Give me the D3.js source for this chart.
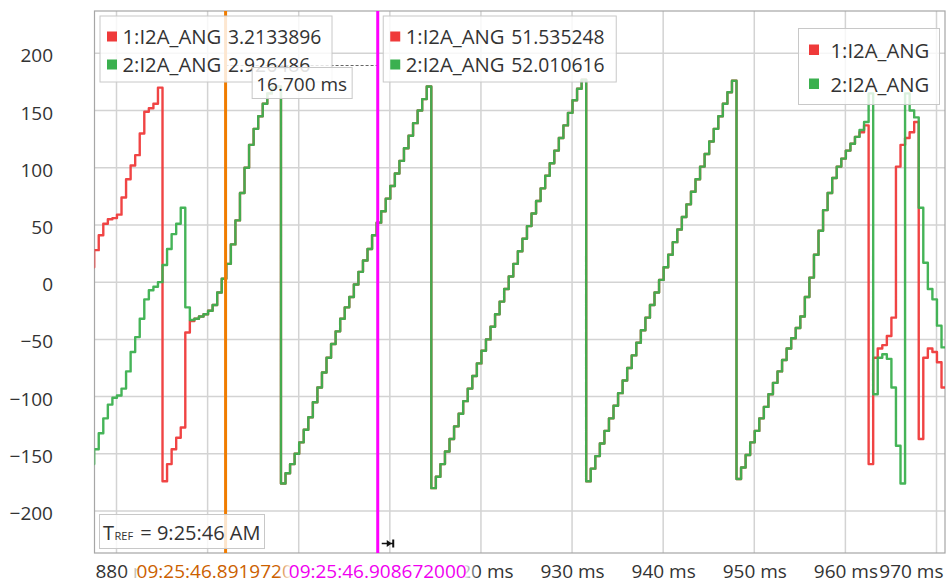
<!DOCTYPE html>
<meta charset="utf-8">
<script src="https://d3js.org/d3.v7.min.js"></script>
<style>
  body { margin: 0; background: #fff; }
  svg { display: block; font-family: "Open Sans", sans-serif; }
</style>
<svg></svg>
<script>

    var width = 949;
    var height = 583;
    var margin = ({top: 11, right: 4, bottom: 30, left: 94.5});

    // samples every 0.5 ms, starting just left of the visible window
    var t0 = 877.05;
    var dt = 0.5;

    var ang1 = [
        13, 28, 41, 51, 55, 56, 59, 74, 90, 102, 111, 130, 149, 152, 156, 170, -174, -159, -146, -136,
        -127, -44, -34, -32, -30, -28, -25, -20, -9, 3, 16, 33, 54, 78, 100, 120, 134, 145, 156, 165,
        170, 171, -176, -167, -159, -150, -140, -129, -118, -105, -92, -79, -66, -54, -43, -32, -22, -13, -2, 9,
        19, 29, 41, 52, 62, 73, 84, 95, 106, 117, 128, 139, 150, 160, 171, -180, -170, -159, -148, -137,
        -126, -115, -104, -93, -82, -71, -60, -50, -39, -28, -17, -6, 5, 16, 27, 38, 49, 60, 71, 82,
        93, 104, 115, 126, 137, 148, 159, 169, 177, -174, -163, -152, -141, -130, -119, -108, -97, -86, -75, -64,
        -53, -42, -31, -20, -9, 2, 13, 24, 35, 46, 57, 68, 79, 90, 101, 112, 123, 134, 145, 156,
        166, 176, -172, -162, -151, -140, -130, -119, -109, -98, -88, -78, -68, -58, -49, -40, -30, -13, 4, 24,
        45, 63, 78, 91, 101, 108, 115, 121, 127, 131, 137, -159, -66, -58, -55, -47, -31, 101, 120, 126,
        131, 140, -137, -66, -58, -61, -70, -92, -92
    ];

    var ang2 = [
        -159, -146, -132, -119, -107, -101, -99, -93, -78, -61, -48, -32, -15, -7, -4, 0, 15, 29, 42, 51,
        65, -22, -33, -32, -30, -28, -25, -20, -9, 3, 16, 33, 54, 78, 100, 120, 134, 145, 156, 165,
        170, 171, -176, -167, -159, -150, -140, -129, -118, -105, -92, -79, -66, -54, -43, -32, -22, -13, -2, 9,
        19, 29, 41, 52, 62, 73, 84, 95, 106, 117, 128, 139, 150, 160, 171, -180, -170, -159, -148, -137,
        -126, -115, -104, -93, -82, -71, -60, -50, -39, -28, -17, -6, 5, 16, 27, 38, 49, 60, 71, 82,
        93, 104, 115, 126, 137, 148, 159, 169, 177, -174, -163, -152, -141, -130, -119, -108, -97, -86, -75, -64,
        -53, -42, -31, -20, -9, 2, 13, 24, 35, 46, 57, 68, 79, 90, 101, 112, 123, 134, 145, 156,
        166, 176, -172, -162, -151, -140, -130, -119, -109, -98, -88, -78, -68, -58, -49, -40, -30, -13, 4, 24,
        45, 63, 78, 91, 101, 108, 115, 121, 127, 133, 140, 165, -98, -66, -63, -67, -92, -143, -176, 165,
        150, 144, 65, 17, -6, -15, -38, -57, -57
    ];

    var seriesNames = ["1:I2A_ANG", "2:I2A_ANG"];
    var seriesColors = ["#ef3a3a", "#3bb04f"];

    var yTicks = [-200, -150, -100, -50, 0, 50, 100, 150, 200];
    var xTicks = [880, 890, 900, 910, 920, 930, 940, 950, 960, 970];

    var cursorTimes = [891.972, 908.672];
    var cursorStamps = ["09:25:46.891972000", "09:25:46.908672000"];
    var cursorColors = ["#f07c00", "#ff00ff"];
    var stampColors = ["#cc5f00", "#f000f0"];
    var cursorVals1 = ["3.2133896", "51.535248"];
    var cursorVals2 = ["2.926486", "52.010616"];
    var tRef = "9:25:46 AM";

    var x = d3.scaleLinear()
        .domain([877.585, 970.933])
        .range([margin.left, width - margin.right]);

    var y = d3.scaleLinear()
        .domain([-236.7, 237])
        .range([height - margin.bottom, margin.top]);

    var svg = d3.select("svg")
        .attr("width", width)
        .attr("height", height)
        .attr("viewBox", [0, 0, width, height]);

    var defs = svg.append("defs");
    defs.append("clipPath").attr("id", "plot")
        .append("rect")
        .attr("x", margin.left).attr("y", margin.top)
        .attr("width", width - margin.right - margin.left)
        .attr("height", height - margin.bottom - margin.top);

    var fade = defs.append("linearGradient").attr("id", "fade");
    fade.append("stop").attr("offset", "0%").attr("stop-color", "#fff").attr("stop-opacity", 0);
    fade.append("stop").attr("offset", "7%").attr("stop-color", "#fff").attr("stop-opacity", 1);
    fade.append("stop").attr("offset", "93%").attr("stop-color", "#fff").attr("stop-opacity", 1);
    fade.append("stop").attr("offset", "100%").attr("stop-color", "#fff").attr("stop-opacity", 0);

    // grid
    svg.append("g")
        .selectAll("line")
        .data(yTicks)
        .join("line")
        .attr("x1", margin.left).attr("x2", width - margin.right)
        .attr("y1", d => y(d)).attr("y2", d => y(d))
        .attr("stroke", "#d3d3d3").attr("stroke-width", 1.5);

    svg.append("g")
        .selectAll("line")
        .data(xTicks)
        .join("line")
        .attr("x1", d => x(d)).attr("x2", d => x(d))
        .attr("y1", margin.top).attr("y2", height - margin.bottom)
        .attr("stroke", "#d3d3d3").attr("stroke-width", 1.5);

    svg.append("rect")
        .attr("x", margin.left).attr("y", margin.top)
        .attr("width", width - margin.right - margin.left)
        .attr("height", height - margin.bottom - margin.top)
        .attr("fill", "none").attr("stroke", "#a6a6a6").attr("stroke-width", 1.2);

    // traces
    var line = d3.line()
        .x((d, i) => x(t0 + i * dt))
        .y(d => y(d))
        .curve(d3.curveStepAfter);

    var traces = svg.append("g").attr("clip-path", "url(#plot)");
    [ang1, ang2].forEach(function(s, i) {
        traces.append("path")
            .datum(s)
            .attr("fill", "none")
            .attr("stroke", seriesColors[i])
            .attr("stroke-width", 2.4)
            .attr("stroke-linejoin", "round")
            .attr("opacity", 0.95)
            .attr("d", line);
    });

    // delta line between cursors
    var cx = cursorTimes.map(d => x(d));
    svg.append("line")
        .attr("x1", cx[0]).attr("x2", cx[1])
        .attr("y1", 65.5).attr("y2", 65.5)
        .attr("stroke", "#666").attr("stroke-width", 1)
        .attr("stroke-dasharray", "3,2");

    svg.append("g")
        .selectAll("line")
        .data(cursorTimes)
        .join("line")
        .attr("x1", d => x(d)).attr("x2", d => x(d))
        .attr("y1", margin.top).attr("y2", height - margin.bottom)
        .attr("stroke", (d, i) => cursorColors[i])
        .attr("stroke-width", 3);

    // cursor readouts
    function readout(bx, by, bw, vals) {
        var g = svg.append("g").attr("transform", `translate(${bx},${by})`);
        g.append("rect")
            .attr("x", 0.5).attr("y", 0.5).attr("width", bw).attr("height", 66)
            .attr("fill", "#fff").attr("fill-opacity", 0.82)
            .attr("stroke", "#c8c8c8");
        seriesNames.forEach(function(n, i) {
            g.append("rect")
                .attr("x", 7.5).attr("y", 16 + i * 28)
                .attr("width", 10).attr("height", 10)
                .attr("fill", seriesColors[i]);
            g.append("text")
                .attr("x", 23).attr("y", 28.5 + i * 28)
                .attr("font-size", 20.3).attr("fill", "#333")
                .text(n);
            g.append("text")
                .attr("x", 128.5).attr("y", 28.5 + i * 28)
                .attr("font-size", 19.3).attr("fill", "#333")
                .text(vals[i]);
        });
    }
    readout(99.5, 15.5, 232, [cursorVals1[0], cursorVals2[0]]);
    readout(cx[1] + 5, 15.5, 233, [cursorVals1[1], cursorVals2[1]]);

    // delta label
    var mid = (cx[0] + cx[1]) / 2;
    svg.append("rect")
        .attr("x", mid - 49.5).attr("y", 67.5).attr("width", 100).attr("height", 31)
        .attr("fill", "#fff").attr("fill-opacity", 0.85)
        .attr("stroke", "#c8c8c8");
    svg.append("text")
        .attr("x", mid).attr("y", 90.5)
        .attr("text-anchor", "middle")
        .attr("font-size", 19).attr("fill", "#333")
        .text(d3.format(".3f")(cursorTimes[1] - cursorTimes[0]) + " ms");

    // series legend
    var lg = svg.append("g").attr("transform", "translate(798.5,28.5)");
    lg.append("rect")
        .attr("width", 141).attr("height", 76)
        .attr("fill", "#fff").attr("fill-opacity", 0.8)
        .attr("stroke", "#c8c8c8");
    seriesNames.forEach(function(n, i) {
        lg.append("rect")
            .attr("x", 10.5).attr("y", 16 + i * 34)
            .attr("width", 10).attr("height", 10.5)
            .attr("fill", seriesColors[i]);
        lg.append("text")
            .attr("x", 32).attr("y", 29.5 + i * 33.5)
            .attr("font-size", 20.3).attr("fill", "#333")
            .text(n);
    });

    // reference time box
    svg.append("rect")
        .attr("x", 99.5).attr("y", 514.5).attr("width", 165).attr("height", 34)
        .attr("fill", "#fff").attr("fill-opacity", 0.8)
        .attr("stroke", "#c8c8c8");
    var tr = svg.append("text")
        .attr("x", 103).attr("y", 539.5)
        .attr("font-size", 20).attr("fill", "#333");
    tr.append("tspan").text("T");
    tr.append("tspan").attr("font-size", 11).attr("dx", 0.5).text("REF");
    tr.append("tspan").attr("dx", 2).text(" = " + tRef);

    // pin marker next to second cursor
    var pin = svg.append("g").attr("transform", `translate(${cx[1] + 4},543.5)`);
    pin.append("line").attr("x1", 0).attr("x2", 12).attr("stroke", "#111").attr("stroke-width", 1.5);
    pin.append("path").attr("d", "M5,-3.5L10,0L5,3.5Z").attr("fill", "#111");
    pin.append("line").attr("x1", 11.5).attr("x2", 11.5).attr("y1", -4).attr("y2", 4)
        .attr("stroke", "#111").attr("stroke-width", 2);

    // axes
    var yAxis = svg.append("g")
        .attr("transform", `translate(${margin.left},0)`)
        .call(d3.axisLeft(y).tickValues(yTicks).tickSize(0).tickPadding(41.5));
    yAxis.select(".domain").remove();
    yAxis.selectAll("text")
        .attr("font-size", 19).attr("font-family", "Open Sans")
        .attr("fill", "#333").attr("dy", "0.45em");

    // tick labels that sit fully under a cursor stamp are not shown
    var hidden = d => cursorTimes.some(t => Math.abs(x(d) - x(t)) < 75);

    var xAxis = svg.append("g")
        .attr("transform", `translate(0,${height - margin.bottom})`)
        .call(d3.axisBottom(x).tickValues(xTicks.filter(d => !hidden(d)))
            .tickSize(0).tickPadding(11.5)
            .tickFormat(d => d + " ms"));
    xAxis.select(".domain").remove();
    xAxis.selectAll("text")
        .attr("font-size", 19).attr("font-family", "Open Sans").attr("fill", "#333");
    xAxis.select(".tick:first-of-type text")
        .attr("text-anchor", "start").attr("x", x.range()[0] - x(xTicks[0]) + 0.5);
    xAxis.select(".tick:last-of-type text")
        .attr("text-anchor", "end").attr("x", x.range()[1] - 2 - x(xTicks[xTicks.length - 1]));

    // cursor time stamps on the axis
    cursorTimes.forEach(function(t, i) {
        var g = svg.append("g").attr("transform", `translate(${x(t)},${height - margin.bottom})`);
        g.append("rect")
            .attr("x", -100).attr("y", 2).attr("width", 200).attr("height", 28)
            .attr("fill", "url(#fade)");
        g.append("text")
            .attr("y", 25)
            .attr("text-anchor", "middle")
            .attr("font-size", 19).attr("fill", stampColors[i])
            .text(cursorStamps[i]);
    });

</script>
